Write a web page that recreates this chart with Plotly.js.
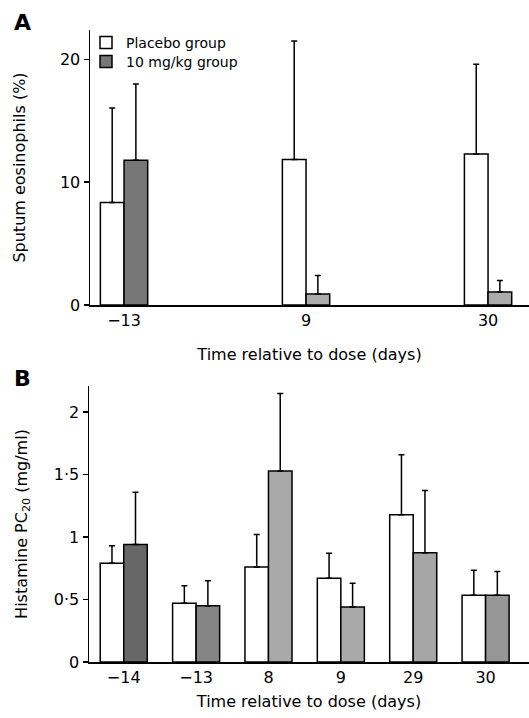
<!DOCTYPE html>
<html>
<head>
<meta charset="utf-8">
<script src="https://cdn.plot.ly/plotly-3.0.1.min.js"></script>
<style>html,body{margin:0;padding:0;background:#fff;}#chart{width:529px;height:718px;}</style>
</head>
<body>
<div id="chart"></div>
<script>
// Panel A: sputum eosinophils (%)
const daysA = ['−13', '9', '30'];
const placeboA = [8.35, 11.85, 12.3];
const placeboAErr = [7.7, 9.65, 7.3];
const drugA = [11.8, 0.9, 1.05];
const drugAErr = [6.2, 1.5, 0.95];

// Panel B: histamine PC20 (mg/ml)
const daysB = ['−14', '−13', '8', '9', '29', '30'];
const placeboB = [0.79, 0.47, 0.76, 0.67, 1.18, 0.535];
const placeboBErr = [0.14, 0.14, 0.26, 0.2, 0.48, 0.2];
const drugB = [0.94, 0.45, 1.53, 0.44, 0.874, 0.535];
const drugBErr = [0.42, 0.2, 0.62, 0.19, 0.5, 0.19];

const tickValsA = [0, 10, 20];
const tickTextA = ['0', '10', '20'];
const tickValsB = [0, 0.5, 1, 1.5, 2];
const tickTextB = ['0', '0·5', '1', '1·5', '2'];

const drugColorsA = ['#777777', '#ababab', '#ababab'];
const drugColorsB = ['#676767', '#858585', '#a9a9a9', '#a9a9a9', '#a6a6a6', '#969696'];

const FONT = 'DejaVu Sans, Verdana, sans-serif';

function err(arr) {
  return {type: 'data', symmetric: false, array: arr, arrayminus: arr.map(() => 0),
          color: '#000', thickness: 1.5, width: 3};
}

const line = {color: '#000', width: 1.5};
const traces = [
  {type: 'bar', x: daysA, y: placeboA, name: 'Placebo group',
   marker: {color: '#fff', line: line}, error_y: err(placeboAErr),
   xaxis: 'x', yaxis: 'y', legend: 'legend', width: 0.13, offset: -0.13},
  {type: 'bar', x: daysA, y: drugA, name: '10 mg/kg group',
   marker: {color: drugColorsA, line: line}, error_y: err(drugAErr),
   xaxis: 'x', yaxis: 'y', legend: 'legend2', width: 0.13, offset: 0},
  {type: 'bar', x: daysB, y: placeboB, name: 'Placebo group',
   marker: {color: '#fff', line: line}, error_y: err(placeboBErr),
   xaxis: 'x2', yaxis: 'y2', showlegend: false, width: 0.325, offset: -0.325},
  {type: 'bar', x: daysB, y: drugB, name: '10 mg/kg group',
   marker: {color: drugColorsB, line: line}, error_y: err(drugBErr),
   xaxis: 'x2', yaxis: 'y2', showlegend: false, width: 0.325, offset: 0}
];

const H = 718, W = 529;
const axisCommon = {
  showline: true, linecolor: '#000', linewidth: 1.5, showgrid: false, zeroline: false,
  tickfont: {family: FONT, size: 16, color: '#000'}, fixedrange: true
};
const titleFont = {family: FONT, size: 16, color: '#000'};
const legendCommon = {xanchor: 'left', yanchor: 'middle', bgcolor: 'rgba(0,0,0,0)',
  font: {family: FONT, size: 14, color: '#000'}, itemwidth: 30, borderwidth: 0};

const layout = {
  width: W, height: H,
  margin: {l: 0, r: 0, t: 0, b: 0},
  paper_bgcolor: '#fff', plot_bgcolor: '#fff',
  barmode: 'group',
  font: {family: FONT, color: '#000'},
  showlegend: true,
  legend: Object.assign({x: 86 / W, y: 1 - 43 / H}, legendCommon),
  legend2: Object.assign({x: 86 / W, y: 1 - 62 / H}, legendCommon),
  xaxis: Object.assign({}, axisCommon, {
    domain: [90 / W, 1], anchor: 'y', type: 'category',
    range: [-0.187, 2.225], ticks: '',
    title: {text: 'Time relative to dose (days)', font: titleFont, standoff: 20}
  }),
  yaxis: Object.assign({}, axisCommon, {
    domain: [1 - 305 / H, 1 - 30 / H], anchor: 'x',
    range: [0, 22.4], tickmode: 'array', tickvals: tickValsA, ticktext: tickTextA,
    ticks: 'outside', ticklen: 5, tickwidth: 1.5, tickcolor: '#000',
    title: {text: 'Sputum eosinophils (%)', font: titleFont, standoff: 30}
  }),
  xaxis2: Object.assign({}, axisCommon, {
    domain: [89 / W, 1], anchor: 'y2', type: 'category',
    range: [-0.48, 5.6], ticks: '',
    title: {text: 'Time relative to dose (days)', font: titleFont, standoff: 10}
  }),
  yaxis2: Object.assign({}, axisCommon, {
    domain: [1 - 662 / H, 1 - 386 / H], anchor: 'x2',
    range: [0, 2.21], tickmode: 'array', tickvals: tickValsB, ticktext: tickTextB,
    ticks: 'outside', ticklen: 5, tickwidth: 1.5, tickcolor: '#000',
    title: {text: 'Histamine PC<sub>20</sub> (mg/ml)', font: titleFont, standoff: 22}
  }),
  annotations: [
    {text: '<b>A</b>', xref: 'paper', yref: 'paper', x: 12 / W, y: 1 - 8 / H, xanchor: 'left', yanchor: 'top',
     showarrow: false, font: {family: FONT, size: 22, color: '#000'}},
    {text: '<b>B</b>', xref: 'paper', yref: 'paper', x: 12 / W, y: 1 - 364 / H, xanchor: 'left', yanchor: 'top',
     showarrow: false, font: {family: FONT, size: 22, color: '#000'}}
  ]
};

Plotly.newPlot('chart', traces, layout, {displayModeBar: false, staticPlot: true});
</script>
</body>
</html>
